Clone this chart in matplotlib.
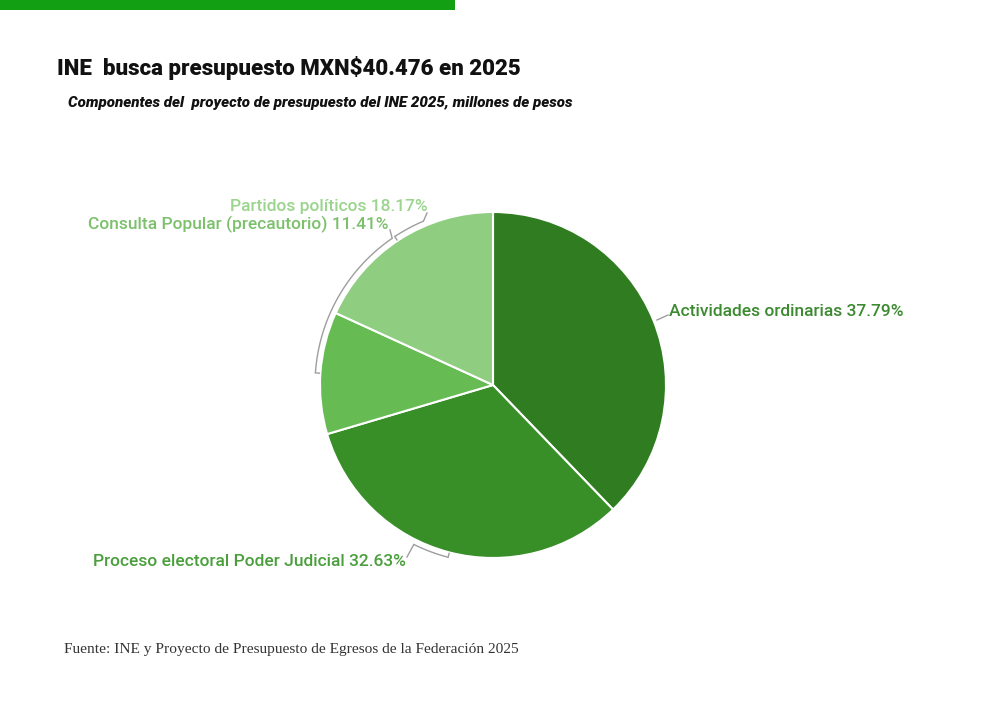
import numpy as np
import matplotlib
matplotlib.use("Agg")
import matplotlib.pyplot as plt

categories = ["Actividades ordinarias", "Proceso electoral Poder Judicial",
              "Consulta Popular (precautorio)", "Partidos políticos"]
values = [37.79, 32.63, 11.41, 18.17]
slice_colors = ["#2f7d20", "#388f28", "#66bb52", "#8fce80"]
label_colors = ["#3b8a2f", "#4a9f3c", "#7cc06c", "#9ad48d"]

title = "INE  busca presupuesto MXN$40.476 en 2025"
subtitle = "Componentes del  proyecto de presupuesto del INE 2025, millones de pesos"
source = "Fuente: INE y Proyecto de Presupuesto de Egresos de la Federación 2025"

W, H = 1000, 701
fig = plt.figure(figsize=(W / 100, H / 100), dpi=100)
ax = fig.add_axes([0, 0, 1, 1])
ax.set_xlim(0, W)
ax.set_ylim(0, H)
ax.set_aspect("equal")
ax.axis("off")

# top green bar
ax.add_patch(plt.Rectangle((0, H - 10), 455, 10, color="#139f13", lw=0))

cx, cy, r = 493, H - 385, 173
ax.pie(values, colors=slice_colors, startangle=90, counterclock=False,
       center=(cx, cy), radius=r,
       wedgeprops=dict(edgecolor="white", linewidth=1.5))
ax.set_xlim(0, W)
ax.set_ylim(0, H)

def pt(theta, R):
    a = np.deg2rad(90 - theta)
    return cx + R * np.cos(a), cy + R * np.sin(a)

gray = "#9e9e9e"
Rb = 178

def bracket(t0, t1, hook_at, tick_end):
    th = np.linspace(t0, t1, 60)
    xs, ys = zip(*[pt(t, Rb) for t in th])
    ax.plot(xs, ys, color=gray, lw=1, solid_capstyle="butt")
    hx0, hy0 = pt(hook_at, Rb)
    hx1, hy1 = pt(hook_at, Rb - 4)
    ax.plot([hx0, hx1], [hy0, hy1], color=gray, lw=1)
    other = t1 if hook_at == t0 else t0
    ex, ey = pt(other, Rb)
    ax.plot([ex, tick_end[0]], [ey, H - tick_end[1]], color=gray, lw=1)

bracket(273.9, 325.5, 273.9, (390, 230))
bracket(326.5, 337.0, 326.5, (427, 213))
bracket(194.6, 206.4, 194.6, (407, 557))
ax.plot([657, 668], [H - 320, H - 315], color=gray, lw=1)

lab_font = dict(family="Roboto", fontsize=12.5, fontweight="medium", va="center")
ax.text(669, H - 311, f"{categories[0]} {values[0]:.2f}%", ha="left",
        color=label_colors[0], **lab_font)
ax.text(406, H - 561, f"{categories[1]} {values[1]:.2f}%", ha="right",
        color=label_colors[1], **lab_font)
ax.text(388, H - 224, f"{categories[2]} {values[2]:.2f}%", ha="right",
        color=label_colors[2], **lab_font)
ax.text(428, H - 206, f"{categories[3]} {values[3]:.2f}%", ha="right",
        color=label_colors[3], **lab_font)

ax.text(57, H - 68, title, ha="left", va="center", family="Roboto",
        fontweight="black", fontsize=16.05, color="#111111")
ax.text(68, H - 103, subtitle, ha="left", va="center", family="Roboto",
        fontweight="black", style="italic", fontsize=10.9, color="#111111")
ax.text(64, H - 649, source, ha="left", va="center", family="Liberation Serif",
        fontsize=11.1, color="#333333")

fig.savefig("out.png", dpi=100, facecolor="white")
